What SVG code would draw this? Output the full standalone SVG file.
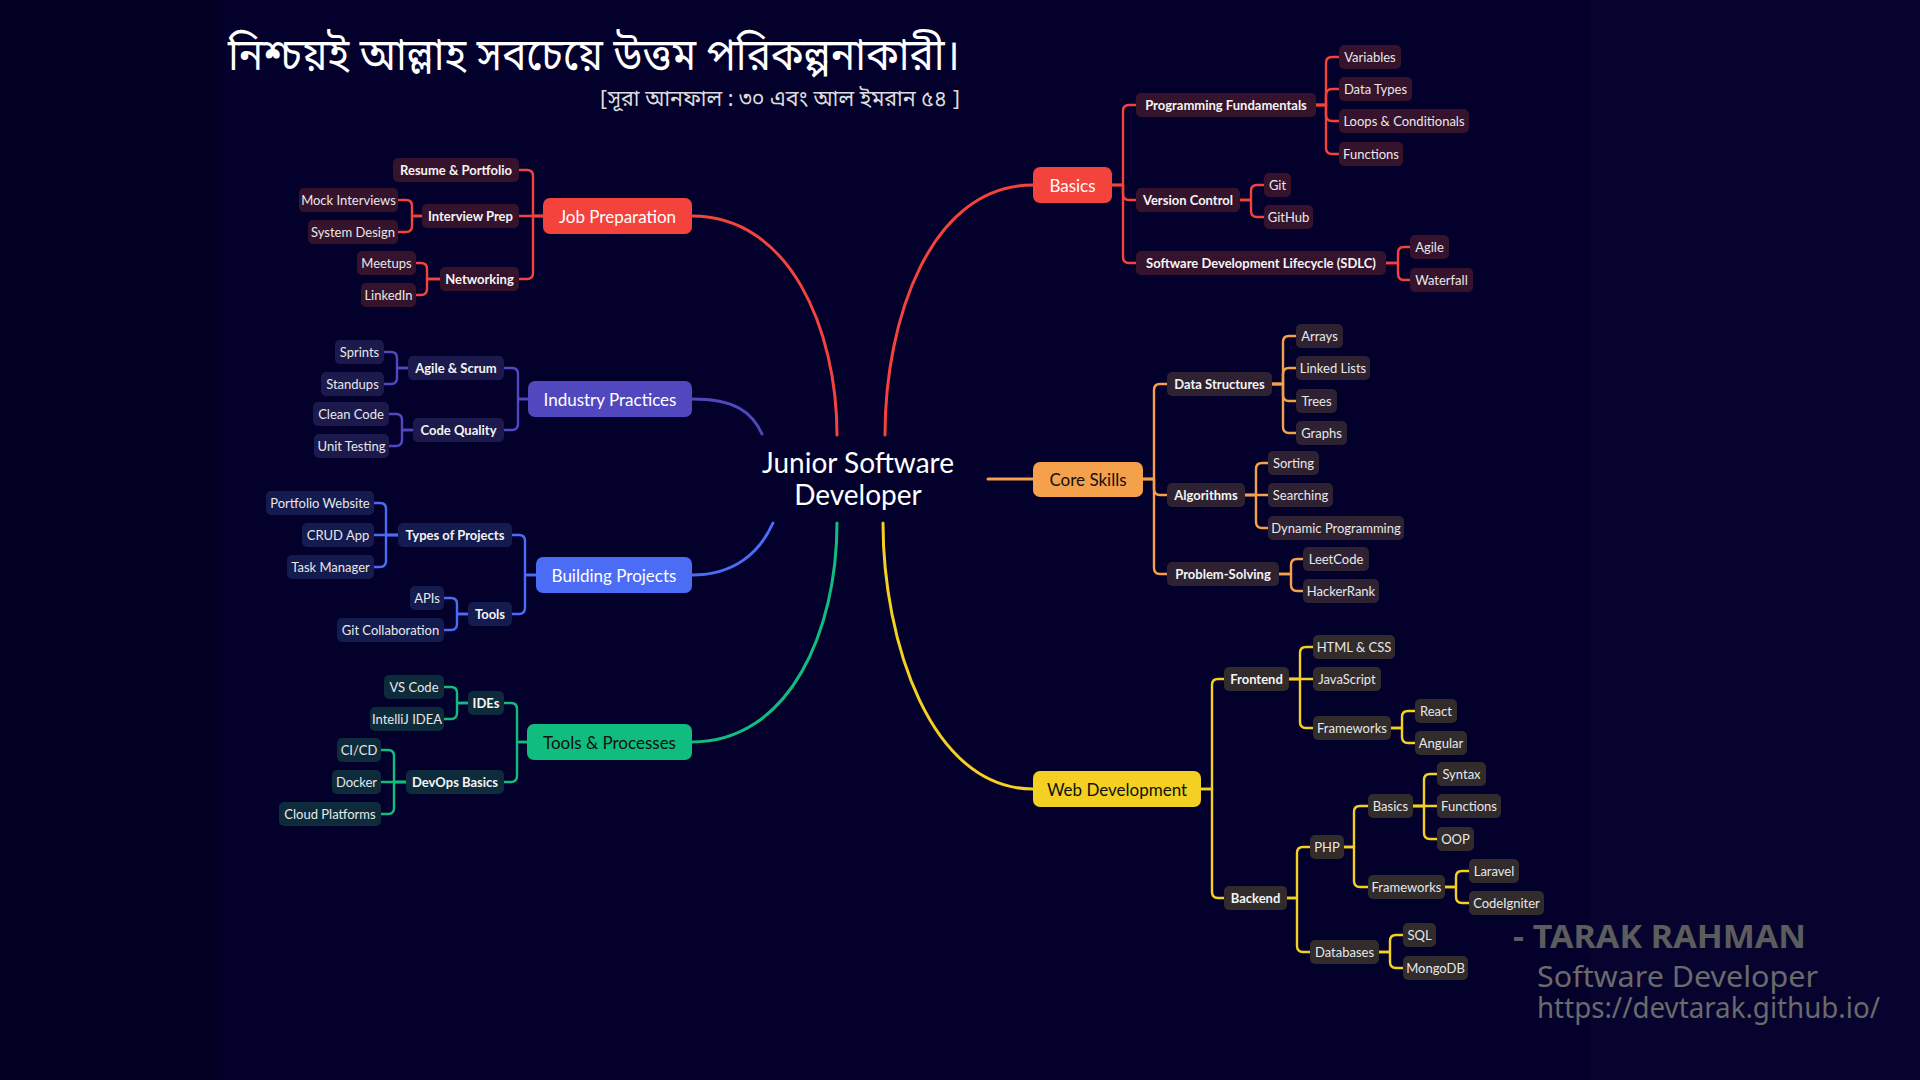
<svg xmlns="http://www.w3.org/2000/svg" width="1920" height="1080" viewBox="0 0 1920 1080">
<style>
.bgm{fill:#03012b}
.bgl{fill:#020124}
.bgr{fill:#06042f}
text{font-family:Lato,"Noto Sans",sans-serif}
.mt{font-size:17px;text-anchor:middle;dominant-baseline:central}
.bt{font-size:13px;font-weight:700;fill:#f4f4f4;text-anchor:middle;dominant-baseline:central}
.rt{font-size:13px;fill:#e8e8e8;text-anchor:middle;dominant-baseline:central}
.w{fill:#ffffff}
.k{fill:#111111}
.c{fill:none;stroke-linecap:round;stroke-linejoin:round}
.cm{stroke-width:3}
.cb{stroke-width:2.4}
.sr{stroke:#f4433c}.sp{stroke:#5148c0}.sb{stroke:#4b6cf5}.sg{stroke:#10bd7e}.so{stroke:#f5a04a}.sy{stroke:#f3d022}
.fr{fill:#f4433c}.fp{fill:#5148c0}.fb{fill:#4b6cf5}.fg{fill:#10bd7e}.fo{fill:#f5a04a}.fy{fill:#f3d022}
.dr{fill:#35132c}.dp{fill:#1c1a4c}.db{fill:#141b4e}.dg{fill:#0d2b3a}.do{fill:#2e2232}.dy{fill:#312b2b}
.title{font-family:"Noto Sans Bengali","Noto Serif Bengali","Lohit Bengali","Noto Sans",sans-serif;font-size:44px;fill:#ffffff}
.sub{font-family:"Noto Sans Bengali","Noto Serif Bengali","Lohit Bengali","Noto Sans",sans-serif;font-size:22px;fill:#dcdcdc}
.sig{font-family:"Noto Sans","Open Sans",sans-serif}
</style>
<rect class="bgm" x="0" y="0" width="1920" height="1080"/>
<rect class="bgl" x="0" y="0" width="220" height="1080"/>
<rect class="bgr" x="1590" y="0" width="330" height="1080"/>

<text class="title" x="228" y="70" textLength="732" lengthAdjust="spacingAndGlyphs">নিশ্চয়ই আল্লাহ সবচেয়ে উত্তম পরিকল্পনাকারী।</text>
<text class="sub" x="600" y="106" textLength="360" lengthAdjust="spacingAndGlyphs">[সূরা আনফাল : ৩০ এবং আল ইমরান ৫৪ ]</text>

<g id="connectors">
<path class="c cm sr" d="M692,216 C790,216 837,330 837,435"/>
<path class="c cm sr" d="M1033,185 C930,185 885,320 885,435"/>
<path class="c cm sp" d="M692,399 C735,399 752,412 762,434"/>
<path class="c cm sb" d="M692,575 C735,575 760,552 773,523"/>
<path class="c cm sg" d="M692,742 C790,742 837,630 837,523"/>
<path class="c cm sy" d="M1033,789 C930,789 883,640 883,523"/>
<path class="c cm so" d="M988,479 H1033"/>

<g class="c cb sr">
<path d="M543,216 H533 V176 Q533,170 527,170 H519"/>
<path d="M543,216 H519"/>
<path d="M543,216 H533 V273 Q533,279 527,279 H519"/>
<path d="M422,216 H412 V206 Q412,200 406,200 H398"/>
<path d="M422,216 H412 V226 Q412,232 406,232 H398"/>
<path d="M440,279 H427 V269 Q427,263 421,263 H416"/>
<path d="M440,279 H427 V289 Q427,295 421,295 H416"/>
<path d="M1112,185 H1123 V111 Q1123,105 1129,105 H1136"/>
<path d="M1112,185 H1123 V194 Q1123,200 1129,200 H1136"/>
<path d="M1112,185 H1123 V257 Q1123,263 1129,263 H1136"/>
<path d="M1316,105 H1326 V63 Q1326,57 1332,57 H1339"/>
<path d="M1316,105 H1326 V95 Q1326,89 1332,89 H1339"/>
<path d="M1316,105 H1326 V115 Q1326,121 1332,121 H1339"/>
<path d="M1316,105 H1326 V148 Q1326,154 1332,154 H1339"/>
<path d="M1240,200 H1251 V191 Q1251,185 1257,185 H1264"/>
<path d="M1240,200 H1251 V211 Q1251,217 1257,217 H1264"/>
<path d="M1386,263 H1398 V253 Q1398,247 1404,247 H1410"/>
<path d="M1386,263 H1398 V274 Q1398,280 1404,280 H1410"/>
</g>
<g class="c cb sp">
<path d="M528,399 H518 V374 Q518,368 512,368 H504"/>
<path d="M528,399 H518 V424 Q518,430 512,430 H504"/>
<path d="M408,368 H397 V358 Q397,352 391,352 H384"/>
<path d="M408,368 H397 V378 Q397,384 391,384 H384"/>
<path d="M413,430 H402 V420 Q402,414 396,414 H389"/>
<path d="M413,430 H402 V440 Q402,446 396,446 H389"/>
</g>
<g class="c cb sb">
<path d="M536,575 H525 V541 Q525,535 519,535 H512"/>
<path d="M536,575 H525 V608 Q525,614 519,614 H512"/>
<path d="M398,535 H386 V509 Q386,503 380,503 H374"/>
<path d="M398,535 H374"/>
<path d="M398,535 H386 V561 Q386,567 380,567 H374"/>
<path d="M468,614 H457 V604 Q457,598 451,598 H444"/>
<path d="M468,614 H457 V624 Q457,630 451,630 H444"/>
</g>
<g class="c cb sg">
<path d="M527,742 H517 V709 Q517,703 511,703 H504"/>
<path d="M527,742 H517 V776 Q517,782 511,782 H504"/>
<path d="M468,703 H457 V693 Q457,687 451,687 H444"/>
<path d="M468,703 H457 V713 Q457,719 451,719 H444"/>
<path d="M406,782 H394 V756 Q394,750 388,750 H381"/>
<path d="M406,782 H381"/>
<path d="M406,782 H394 V808 Q394,814 388,814 H381"/>
</g>
<g class="c cb so">
<path d="M1143,479 H1154 V390 Q1154,384 1160,384 H1167"/>
<path d="M1143,479 H1154 V489 Q1154,495 1160,495 H1167"/>
<path d="M1143,479 H1154 V568 Q1154,574 1160,574 H1167"/>
<path d="M1272,384 H1283 V342 Q1283,336 1289,336 H1296"/>
<path d="M1272,384 H1283 V374 Q1283,368 1289,368 H1296"/>
<path d="M1272,384 H1283 V395 Q1283,401 1289,401 H1296"/>
<path d="M1272,384 H1283 V427 Q1283,433 1289,433 H1296"/>
<path d="M1245,495 H1256 V469 Q1256,463 1262,463 H1268"/>
<path d="M1245,495 H1268"/>
<path d="M1245,495 H1256 V522 Q1256,528 1262,528 H1268"/>
<path d="M1279,574 H1291 V565 Q1291,559 1297,559 H1303"/>
<path d="M1279,574 H1291 V585 Q1291,591 1297,591 H1303"/>
</g>
<g class="c cb sy">
<path d="M1201,789 H1212 V685 Q1212,679 1218,679 H1224"/>
<path d="M1201,789 H1212 V892 Q1212,898 1218,898 H1224"/>
<path d="M1289,679 H1300 V653 Q1300,647 1306,647 H1313"/>
<path d="M1289,679 H1313"/>
<path d="M1289,679 H1300 V722 Q1300,728 1306,728 H1313"/>
<path d="M1391,728 H1402 V717 Q1402,711 1408,711 H1415"/>
<path d="M1391,728 H1402 V737 Q1402,743 1408,743 H1415"/>
<path d="M1287,898 H1297 V853 Q1297,847 1303,847 H1310"/>
<path d="M1287,898 H1297 V946 Q1297,952 1303,952 H1310"/>
<path d="M1344,847 H1354 V812 Q1354,806 1360,806 H1368"/>
<path d="M1344,847 H1354 V881 Q1354,887 1360,887 H1368"/>
<path d="M1413,806 H1424 V780 Q1424,774 1430,774 H1437"/>
<path d="M1413,806 H1437"/>
<path d="M1413,806 H1424 V833 Q1424,839 1430,839 H1437"/>
<path d="M1445,887 H1456 V877 Q1456,871 1462,871 H1469"/>
<path d="M1445,887 H1456 V897 Q1456,903 1462,903 H1469"/>
<path d="M1379,952 H1390 V941 Q1390,935 1396,935 H1403"/>
<path d="M1379,952 H1390 V962 Q1390,968 1396,968 H1403"/>
</g>
</g>

<g id="root"><text x="858" y="473" font-size="28" fill="#ffffff" text-anchor="middle">Junior Software</text><text x="858" y="505" font-size="28" fill="#ffffff" text-anchor="middle">Developer</text></g>

<!-- Job Preparation -->
<g id="job-preparation"><rect class="fr" x="543" y="198" width="149" height="36" rx="7"/><text class="mt w" x="617.5" y="216">Job Preparation</text></g>
<g id="resume-portfolio"><rect class="dr" x="393" y="158" width="126" height="24" rx="5"/><text class="bt" x="456" y="170">Resume &amp; Portfolio</text></g>
<g id="interview-prep"><rect class="dr" x="422" y="204" width="97" height="24" rx="5"/><text class="bt" x="470.5" y="216">Interview Prep</text></g>
<g id="mock-interviews"><rect class="dr" x="299" y="188" width="99" height="24" rx="5"/><text class="rt" x="348.5" y="200">Mock Interviews</text></g>
<g id="system-design"><rect class="dr" x="308" y="220" width="90" height="24" rx="5"/><text class="rt" x="353" y="232">System Design</text></g>
<g id="networking"><rect class="dr" x="440" y="267" width="79" height="24" rx="5"/><text class="bt" x="479.5" y="279">Networking</text></g>
<g id="meetups"><rect class="dr" x="357" y="251" width="59" height="24" rx="5"/><text class="rt" x="386.5" y="263">Meetups</text></g>
<g id="linkedin"><rect class="dr" x="361" y="283" width="55" height="24" rx="5"/><text class="rt" x="388.5" y="295">LinkedIn</text></g>

<!-- Industry Practices -->
<g id="industry-practices"><rect class="fp" x="528" y="381" width="164" height="36" rx="7"/><text class="mt w" x="610" y="399">Industry Practices</text></g>
<g id="agile-scrum"><rect class="dp" x="408" y="356" width="96" height="24" rx="5"/><text class="bt" x="456" y="368">Agile &amp; Scrum</text></g>
<g id="sprints"><rect class="dp" x="335" y="340" width="49" height="24" rx="5"/><text class="rt" x="359.5" y="352">Sprints</text></g>
<g id="standups"><rect class="dp" x="321" y="372" width="63" height="24" rx="5"/><text class="rt" x="352.5" y="384">Standups</text></g>
<g id="code-quality"><rect class="dp" x="413" y="418" width="91" height="24" rx="5"/><text class="bt" x="458.5" y="430">Code Quality</text></g>
<g id="clean-code"><rect class="dp" x="313" y="402" width="76" height="24" rx="5"/><text class="rt" x="351" y="414">Clean Code</text></g>
<g id="unit-testing"><rect class="dp" x="314" y="434" width="75" height="24" rx="5"/><text class="rt" x="351.5" y="446">Unit Testing</text></g>

<!-- Building Projects -->
<g id="building-projects"><rect class="fb" x="536" y="557" width="156" height="36" rx="7"/><text class="mt w" x="614" y="575">Building Projects</text></g>
<g id="types-of-projects"><rect class="db" x="398" y="523" width="114" height="24" rx="5"/><text class="bt" x="455" y="535">Types of Projects</text></g>
<g id="portfolio-website"><rect class="db" x="266" y="491" width="108" height="24" rx="5"/><text class="rt" x="320" y="503">Portfolio Website</text></g>
<g id="crud-app"><rect class="db" x="302" y="523" width="72" height="24" rx="5"/><text class="rt" x="338" y="535">CRUD App</text></g>
<g id="task-manager"><rect class="db" x="287" y="555" width="87" height="24" rx="5"/><text class="rt" x="330.5" y="567">Task Manager</text></g>
<g id="tools"><rect class="db" x="468" y="602" width="44" height="24" rx="5"/><text class="bt" x="490" y="614">Tools</text></g>
<g id="apis"><rect class="db" x="410" y="586" width="34" height="24" rx="5"/><text class="rt" x="427" y="598">APIs</text></g>
<g id="git-collaboration"><rect class="db" x="337" y="618" width="107" height="24" rx="5"/><text class="rt" x="390.5" y="630">Git Collaboration</text></g>

<!-- Tools & Processes -->
<g id="tools-processes"><rect class="fg" x="527" y="724" width="165" height="36" rx="7"/><text class="mt k" x="609.5" y="742">Tools &amp; Processes</text></g>
<g id="ides"><rect class="dg" x="468" y="691" width="36" height="24" rx="5"/><text class="bt" x="486" y="703">IDEs</text></g>
<g id="vs-code"><rect class="dg" x="384" y="675" width="60" height="24" rx="5"/><text class="rt" x="414" y="687">VS Code</text></g>
<g id="intellij-idea"><rect class="dg" x="370" y="707" width="74" height="24" rx="5"/><text class="rt" x="407" y="719">IntelliJ IDEA</text></g>
<g id="devops-basics"><rect class="dg" x="406" y="770" width="98" height="24" rx="5"/><text class="bt" x="455" y="782">DevOps Basics</text></g>
<g id="ci-cd"><rect class="dg" x="337" y="738" width="44" height="24" rx="5"/><text class="rt" x="359" y="750">CI/CD</text></g>
<g id="docker"><rect class="dg" x="332" y="770" width="49" height="24" rx="5"/><text class="rt" x="356.5" y="782">Docker</text></g>
<g id="cloud-platforms"><rect class="dg" x="279" y="802" width="102" height="24" rx="5"/><text class="rt" x="330" y="814">Cloud Platforms</text></g>

<!-- Basics -->
<g id="basics"><rect class="fr" x="1033" y="167" width="79" height="36" rx="7"/><text class="mt w" x="1072.5" y="185">Basics</text></g>
<g id="programming-fundamentals"><rect class="dr" x="1136" y="93" width="180" height="24" rx="5"/><text class="bt" x="1226" y="105">Programming Fundamentals</text></g>
<g id="variables"><rect class="dr" x="1339" y="45" width="62" height="24" rx="5"/><text class="rt" x="1370" y="57">Variables</text></g>
<g id="data-types"><rect class="dr" x="1339" y="77" width="73" height="24" rx="5"/><text class="rt" x="1375.5" y="89">Data Types</text></g>
<g id="loops-conditionals"><rect class="dr" x="1339" y="109" width="130" height="24" rx="5"/><text class="rt" x="1404" y="121">Loops &amp; Conditionals</text></g>
<g id="functions"><rect class="dr" x="1339" y="142" width="64" height="24" rx="5"/><text class="rt" x="1371" y="154">Functions</text></g>
<g id="version-control"><rect class="dr" x="1136" y="188" width="104" height="24" rx="5"/><text class="bt" x="1188" y="200">Version Control</text></g>
<g id="git"><rect class="dr" x="1264" y="173" width="27" height="24" rx="5"/><text class="rt" x="1277.5" y="185">Git</text></g>
<g id="github"><rect class="dr" x="1264" y="205" width="49" height="24" rx="5"/><text class="rt" x="1288.5" y="217">GitHub</text></g>
<g id="sdlc"><rect class="dr" x="1136" y="251" width="250" height="24" rx="5"/><text class="bt" x="1261" y="263">Software Development Lifecycle (SDLC)</text></g>
<g id="agile"><rect class="dr" x="1410" y="235" width="39" height="24" rx="5"/><text class="rt" x="1429.5" y="247">Agile</text></g>
<g id="waterfall"><rect class="dr" x="1410" y="268" width="63" height="24" rx="5"/><text class="rt" x="1441.5" y="280">Waterfall</text></g>

<!-- Core Skills -->
<g id="core-skills"><rect class="fo" x="1033" y="462" width="110" height="35" rx="7"/><text class="mt k" x="1088" y="479.5">Core Skills</text></g>
<g id="data-structures"><rect class="do" x="1167" y="372" width="105" height="24" rx="5"/><text class="bt" x="1219.5" y="384">Data Structures</text></g>
<g id="arrays"><rect class="do" x="1296" y="324" width="47" height="24" rx="5"/><text class="rt" x="1319.5" y="336">Arrays</text></g>
<g id="linked-lists"><rect class="do" x="1296" y="356" width="74" height="24" rx="5"/><text class="rt" x="1333" y="368">Linked Lists</text></g>
<g id="trees"><rect class="do" x="1296" y="389" width="41" height="24" rx="5"/><text class="rt" x="1316.5" y="401">Trees</text></g>
<g id="graphs"><rect class="do" x="1296" y="421" width="51" height="24" rx="5"/><text class="rt" x="1321.5" y="433">Graphs</text></g>
<g id="algorithms"><rect class="do" x="1167" y="483" width="78" height="24" rx="5"/><text class="bt" x="1206" y="495">Algorithms</text></g>
<g id="sorting"><rect class="do" x="1268" y="451" width="51" height="24" rx="5"/><text class="rt" x="1293.5" y="463">Sorting</text></g>
<g id="searching"><rect class="do" x="1268" y="483" width="65" height="24" rx="5"/><text class="rt" x="1300.5" y="495">Searching</text></g>
<g id="dynamic-programming"><rect class="do" x="1268" y="516" width="136" height="24" rx="5"/><text class="rt" x="1336" y="528">Dynamic Programming</text></g>
<g id="problem-solving"><rect class="do" x="1167" y="562" width="112" height="24" rx="5"/><text class="bt" x="1223" y="574">Problem-Solving</text></g>
<g id="leetcode"><rect class="do" x="1303" y="547" width="66" height="24" rx="5"/><text class="rt" x="1336" y="559">LeetCode</text></g>
<g id="hackerrank"><rect class="do" x="1303" y="579" width="76" height="24" rx="5"/><text class="rt" x="1341" y="591">HackerRank</text></g>

<!-- Web Development -->
<g id="web-development"><rect class="fy" x="1033" y="771" width="168" height="36" rx="7"/><text class="mt k" x="1117" y="789">Web Development</text></g>
<g id="frontend"><rect class="dy" x="1224" y="667" width="65" height="24" rx="5"/><text class="bt" x="1256.5" y="679">Frontend</text></g>
<g id="html-css"><rect class="dy" x="1313" y="635" width="82" height="24" rx="5"/><text class="rt" x="1354" y="647">HTML &amp; CSS</text></g>
<g id="javascript"><rect class="dy" x="1313" y="667" width="68" height="24" rx="5"/><text class="rt" x="1347" y="679">JavaScript</text></g>
<g id="frontend-frameworks"><rect class="dy" x="1313" y="716" width="78" height="24" rx="5"/><text class="rt" x="1352" y="728">Frameworks</text></g>
<g id="react"><rect class="dy" x="1415" y="699" width="42" height="24" rx="5"/><text class="rt" x="1436" y="711">React</text></g>
<g id="angular"><rect class="dy" x="1415" y="731" width="52" height="24" rx="5"/><text class="rt" x="1441" y="743">Angular</text></g>
<g id="backend"><rect class="dy" x="1224" y="886" width="63" height="24" rx="5"/><text class="bt" x="1255.5" y="898">Backend</text></g>
<g id="php"><rect class="dy" x="1310" y="835" width="34" height="24" rx="5"/><text class="rt" x="1327" y="847">PHP</text></g>
<g id="php-basics"><rect class="dy" x="1368" y="794" width="45" height="24" rx="5"/><text class="rt" x="1390.5" y="806">Basics</text></g>
<g id="syntax"><rect class="dy" x="1437" y="762" width="49" height="24" rx="5"/><text class="rt" x="1461.5" y="774">Syntax</text></g>
<g id="php-functions"><rect class="dy" x="1437" y="794" width="64" height="24" rx="5"/><text class="rt" x="1469" y="806">Functions</text></g>
<g id="oop"><rect class="dy" x="1437" y="827" width="37" height="24" rx="5"/><text class="rt" x="1455.5" y="839">OOP</text></g>
<g id="php-frameworks"><rect class="dy" x="1368" y="875" width="77" height="24" rx="5"/><text class="rt" x="1406.5" y="887">Frameworks</text></g>
<g id="laravel"><rect class="dy" x="1469" y="859" width="50" height="24" rx="5"/><text class="rt" x="1494" y="871">Laravel</text></g>
<g id="codeigniter"><rect class="dy" x="1469" y="891" width="75" height="24" rx="5"/><text class="rt" x="1506.5" y="903">CodeIgniter</text></g>
<g id="databases"><rect class="dy" x="1310" y="940" width="69" height="24" rx="5"/><text class="rt" x="1344.5" y="952">Databases</text></g>
<g id="sql"><rect class="dy" x="1403" y="923" width="33" height="24" rx="5"/><text class="rt" x="1419.5" y="935">SQL</text></g>
<g id="mongodb"><rect class="dy" x="1403" y="956" width="65" height="24" rx="5"/><text class="rt" x="1435.5" y="968">MongoDB</text></g>

<!-- Signature -->
<g id="signature">
<text class="sig" x="1513" y="948" font-size="32" font-weight="700" fill="#5c5c5c" textLength="293" lengthAdjust="spacingAndGlyphs">- TARAK RAHMAN</text>
<text class="sig" x="1537" y="987" font-size="29" fill="#6a6a6a" textLength="281" lengthAdjust="spacingAndGlyphs">Software Developer</text>
<text class="sig" x="1537" y="1018" font-size="29" fill="#6a6a6a" textLength="343" lengthAdjust="spacingAndGlyphs">https://devtarak.github.io/</text>
</g>
</svg>
